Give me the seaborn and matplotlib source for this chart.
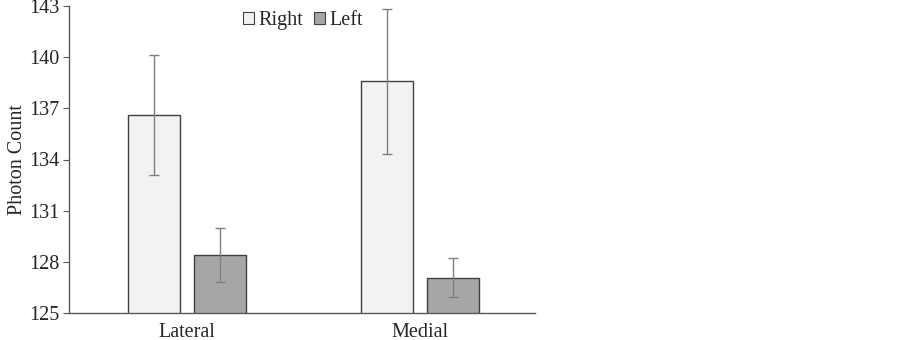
import matplotlib
matplotlib.use("Agg")
import matplotlib.pyplot as plt
import seaborn as sns
import pandas as pd
import numpy as np

regions = ["Lateral", "Medial"]
sides = ["Right", "Left"]
right_means = [136.6, 138.6]
left_means = [128.4, 127.07]
right_err = [3.5, 4.25]
left_err = [1.6, 1.15]
yticks = [125, 128, 131, 134, 137, 140, 143]

sns.set_theme(style="white")
plt.rcParams['font.family'] = ['Liberation Serif', 'DejaVu Serif']

df = pd.DataFrame({
    "Region": regions * 2,
    "Side": ["Right"] * 2 + ["Left"] * 2,
    "Count": right_means + left_means,
    "Err": right_err + left_err,
})

fig = plt.figure(figsize=(9.03, 3.40), dpi=100)
ax = fig.add_axes([69/903, 1 - 313/340, (535-69)/903, (313-6)/340])

sns.barplot(data=df, x="Region", y="Count", hue="Side", hue_order=sides,
            order=regions, palette={"Right": "#f2f2f2", "Left": "#a6a6a6"},
            edgecolor="#404040", linewidth=1.0, width=0.566, gap=0.21,
            errorbar=None, ax=ax)

# error bars at bar centers
for container, side in zip(ax.containers, sides):
    sub = df[df.Side == side].set_index("Region").loc[regions]
    xs = [p.get_x() + p.get_width() / 2 for p in container.patches]
    ax.errorbar(xs, sub["Count"].values, yerr=sub["Err"].values, fmt="none",
                ecolor="#7f7f7f", elinewidth=1.0, capsize=3.5, capthick=1.0, zorder=3)

ax.set_ylim(125, 143)
ax.set_yticks(yticks)
ax.set_yticklabels([str(t) for t in yticks])
ax.set_xlim(-0.507, 1.493)
ax.set_xlabel("")
ax.set_ylabel("Photon Count", fontsize=14.5)
ax.yaxis.set_label_coords(-0.090, 0.5)
ax.tick_params(axis="y", length=4, width=0.8, color="#595959", labelsize=14.5, pad=3, direction="out", left=True)
ax.tick_params(axis="x", length=0, labelsize=14.5, pad=7)
for s in ["top", "right"]:
    ax.spines[s].set_visible(False)
for s in ["left", "bottom"]:
    ax.spines[s].set_color("#595959")
    ax.spines[s].set_linewidth(1.0)

leg = ax.legend(loc="center", bbox_to_anchor=(0.502, 0.952), ncol=2, frameon=False,
                fontsize=14.5, handlelength=0.55, handleheight=0.55, handletextpad=0.2,
                columnspacing=0.55, borderaxespad=0)
for h in leg.legend_handles:
    h.set_linewidth(0.8)

fig.savefig("out.png", dpi=100)
